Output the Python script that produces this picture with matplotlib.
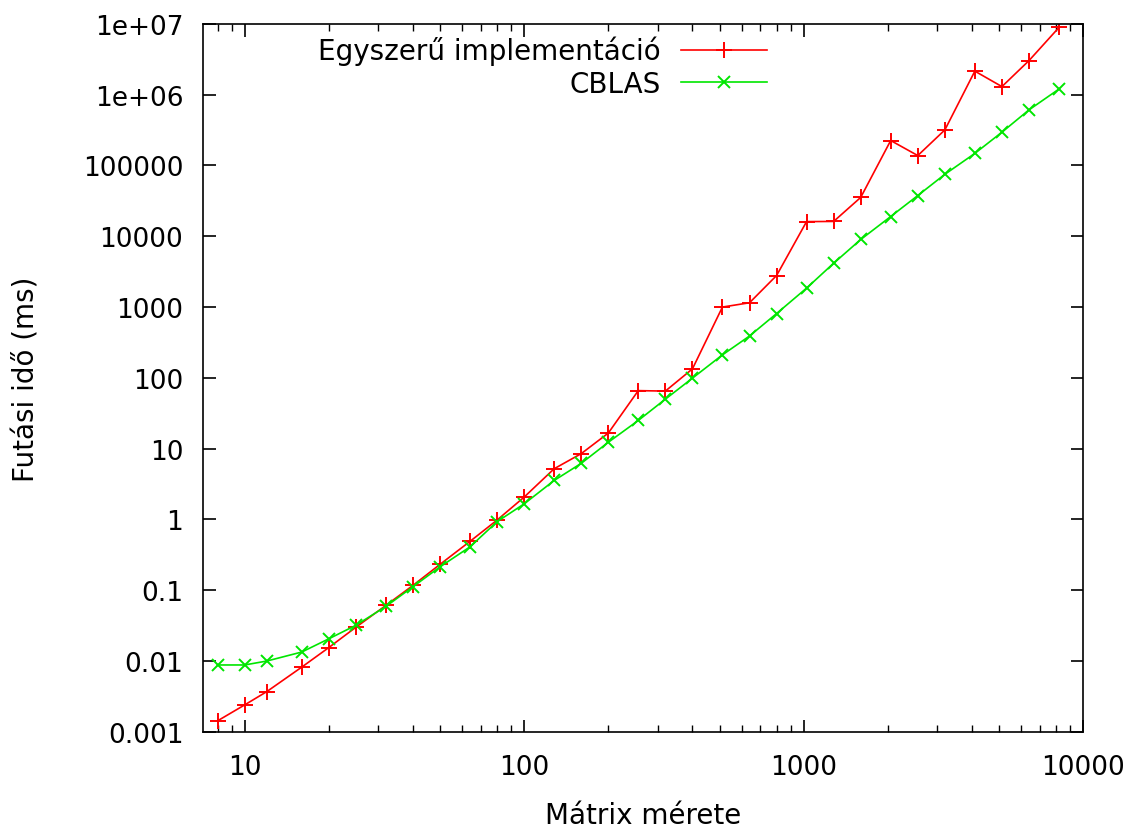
import matplotlib.pyplot as plt
from matplotlib.ticker import LogLocator, FixedLocator, FixedFormatter, NullLocator

# matrix sizes
sizes = [8, 10, 12, 16, 20, 25, 32, 40, 50, 64, 80, 100, 128, 160, 200, 256, 320,
         400, 512, 640, 800, 1024, 1280, 1600, 2048, 2560, 3200, 4096, 5120, 6400, 8192]

# running times (ms)
simple_ms = [0.00143, 0.0024, 0.0037, 0.0082, 0.0155, 0.030, 0.061, 0.117, 0.232, 0.49,
             0.98, 2.07, 5.2, 8.5, 16.6, 66, 65, 134, 1000, 1150, 2790,
             16100, 16200, 35400, 225000, 138000, 318000, 2.15e6, 1.3e6, 3.03e6, 8.9e6]
cblas_ms = [0.0088, 0.0088, 0.0100, 0.0134, 0.0206, 0.032, 0.059, 0.112, 0.214, 0.41,
            0.93, 1.66, 3.55, 6.2, 12.3, 25, 50, 99, 211, 390, 810,
            1850, 4160, 9000, 19000, 37600, 75000, 148000, 295000, 610000, 1.2e6]

y_ticks = [1e-3, 1e-2, 1e-1, 1, 10, 100, 1000, 1e4, 1e5, 1e6, 1e7]
y_labels = ["0.001", "0.01", "0.1", "1", "10", "100", "1000", "10000", "100000", "1e+06", "1e+07"]
x_ticks = [10, 100, 1000, 10000]
x_labels = ["10", "100", "1000", "10000"]

fig = plt.figure(figsize=(11.39, 8.29), dpi=100)
ax = fig.add_axes([0.178, 0.116, 0.773, 0.854])

ax.plot(sizes, simple_ms, color="#ff0000", marker="+", markersize=11, markeredgewidth=1.4,
        linewidth=1.2, label="Egyszerű implementáció")
ax.plot(sizes, cblas_ms, color="#00e600", marker="x", markersize=9, markeredgewidth=1.4,
        linewidth=1.2, label="CBLAS")

ax.set_xscale("log")
ax.set_yscale("log")
ax.set_xlim(7.08, 10000)
ax.set_ylim(1e-3, 1e7)

ax.yaxis.set_major_locator(FixedLocator(y_ticks))
ax.yaxis.set_major_formatter(FixedFormatter(y_labels))
ax.yaxis.set_minor_locator(NullLocator())
ax.xaxis.set_major_locator(FixedLocator(x_ticks))
ax.xaxis.set_major_formatter(FixedFormatter(x_labels))
ax.xaxis.set_minor_locator(LogLocator(base=10, subs=range(2, 10)))

ax.tick_params(which="both", direction="in", top=True, right=True, color="black")
ax.tick_params(which="major", length=9, width=1.2)
ax.tick_params(which="minor", length=5, width=1.0)
ax.tick_params(axis="y", labelsize=19, pad=14)
ax.tick_params(axis="x", labelsize=19, pad=16)
for sp in ax.spines.values():
    sp.set_linewidth(1.2)

ax.set_xlabel("Mátrix mérete", fontsize=20, labelpad=15)
ax.set_ylabel("Futási idő (ms)", fontsize=20)
ax.yaxis.set_label_coords(-0.184, 0.5)

ax.legend(loc="upper right", bbox_to_anchor=(0.641, 0.983), frameon=False, markerfirst=False,
          fontsize=20, handlelength=3.1, labelspacing=0.15, handletextpad=0.72,
          borderpad=0, borderaxespad=0)

fig.savefig("out.png", dpi=100)
